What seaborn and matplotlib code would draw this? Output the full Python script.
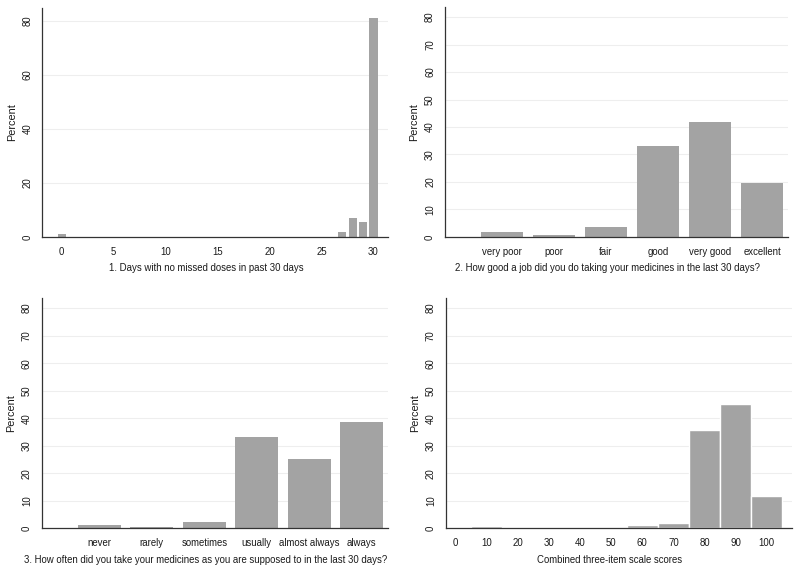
import matplotlib
matplotlib.use("Agg")
import matplotlib.pyplot as plt
import seaborn as sns
import pandas as pd

# panel 1: days with no missed doses
days = [0, 27, 28, 29, 30]
days_pct = [1.0, 1.85, 6.9, 5.4, 81.0]

# panel 2: how good a job
job_labels = ["very poor", "poor", "fair", "good", "very good", "excellent"]
job_pct = [1.7, 0.85, 3.6, 33.2, 41.8, 19.6]

# panel 3: how often
often_labels = ["never", "rarely", "sometimes", "usually", "almost always", "always"]
often_pct = [1.3, 0.6, 2.2, 33.3, 25.1, 38.5]

# panel 4: combined scale scores (bin centres, width 10)
score_centers = [10, 60, 70, 80, 90, 100]
score_pct = [0.75, 1.1, 1.95, 35.6, 45.3, 11.8]
score_edges = [5, 15, 25, 35, 45, 55, 65, 75, 85, 95, 105]

sns.set_theme(style="white")
plt.rcParams["font.family"] = ["Liberation Sans", "DejaVu Sans"]

BAR = "#a3a3a3"
GRID = "#eeeeee"
AX = "#333333"
TXT = "#1a1a1a"
FS = 6.9

fig = plt.figure(figsize=(8, 5.71), dpi=100)
ax1 = fig.add_axes([0.0525, 0.585, 0.4325, 0.401])
ax2 = fig.add_axes([0.556, 0.585, 0.429, 0.403])
ax3 = fig.add_axes([0.052, 0.0748, 0.433, 0.403])
ax4 = fig.add_axes([0.557, 0.0748, 0.4325, 0.403])


def style(ax, yticks, ytop, xlabel):
    ax.set_ylim(0, ytop)
    ax.set_yticks(yticks)
    ax.set_yticklabels([str(t) for t in yticks], rotation=90, va="center")
    for t in yticks[1:]:
        ax.axhline(t, color=GRID, lw=0.8, zorder=0)
    for s in ["top", "right"]:
        ax.spines[s].set_visible(False)
    for s in ["left", "bottom"]:
        ax.spines[s].set_color(AX)
        ax.spines[s].set_linewidth(0.9)
    ax.tick_params(axis="both", direction="out", length=4, width=0.8,
                   color=AX, labelsize=FS, labelcolor=TXT, pad=3)
    ax.set_ylabel("Percent", fontsize=7.8, color=TXT, labelpad=4)
    ax.set_xlabel(xlabel, fontsize=FS, color=TXT)
    # Stata centres the axis title on the plot region incl. the y title
    ax.xaxis.set_label_coords(0.474, -0.115)


# panel 1
d1 = pd.DataFrame({"day": days, "pct": days_pct})
sns.barplot(data=d1, x="day", y="pct", native_scale=True, width=0.8,
            color=BAR, saturation=1, edgecolor="none", ax=ax1, zorder=2)
ax1.set_xlim(-1.9, 31.4)
ax1.set_xticks([0, 5, 10, 15, 20, 25, 30])
ax1.set_xticklabels(["0", "5", "10", "15", "20", "25", "30"])
style(ax1, [0, 20, 40, 60, 80], 84.8,
      "1. Days with no missed doses in past 30 days")

# panel 2
d2 = pd.DataFrame({"cat": job_labels, "pct": job_pct})
sns.barplot(data=d2, x="cat", y="pct", width=0.82, color=BAR, saturation=1,
            edgecolor="none", ax=ax2, zorder=2)
ax2.set_xlim(-1.1, 5.5)
style(ax2, list(range(0, 81, 10)), 83.7,
      "2. How good a job did you do taking your medicines in the last 30 days?")

# panel 3
d3 = pd.DataFrame({"cat": often_labels, "pct": often_pct})
sns.barplot(data=d3, x="cat", y="pct", width=0.82, color=BAR, saturation=1,
            edgecolor="none", ax=ax3, zorder=2)
ax3.set_xlim(-1.1, 5.5)
style(ax3, list(range(0, 81, 10)), 83.6,
      "3. How often did you take your medicines as you are supposed to in the last 30 days?")

# panel 4
d4 = pd.DataFrame({"score": score_centers, "pct": score_pct})
sns.histplot(data=d4, x="score", weights="pct", bins=score_edges, stat="count",
             color=BAR, alpha=1, edgecolor="white", linewidth=1, ax=ax4, zorder=2)
ax4.set_xlim(-3.2, 108)
ax4.set_xticks(list(range(0, 101, 10)))
ax4.set_xticklabels([str(t) for t in range(0, 101, 10)])
style(ax4, list(range(0, 81, 10)), 83.6, "Combined three-item scale scores")

fig.savefig("out.png", dpi=100, facecolor="white")
